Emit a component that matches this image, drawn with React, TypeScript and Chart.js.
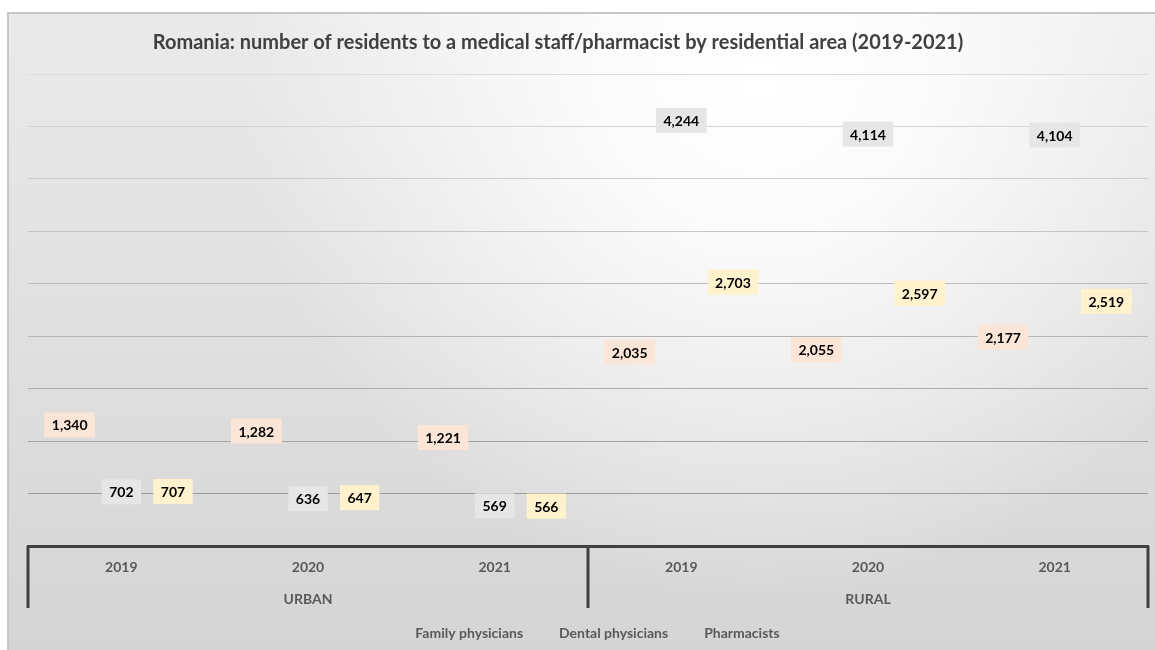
import { useEffect, useRef } from 'react';
import { Chart, registerables } from 'chart.js';

Chart.register(...registerables);

const TITLE = 'Romania: number of residents to a medical staff/pharmacist by residential area (2019-2021)';
const years = ['2019', '2020', '2021', '2019', '2020', '2021'];
const areas = ['URBAN', 'RURAL'];
const seriesNames = ['Family physicians', 'Dental physicians', 'Pharmacists'];
const familyPhysicians = [1340, 1282, 1221, 2035, 2055, 2177];
const dentalPhysicians = [702, 636, 569, 4244, 4114, 4104];
const pharmacists = [707, 647, 566, 2703, 2597, 2519];
const labelFills = ['#FBE5D6', '#E7E6E6', '#FFF2CC'];
const yMin = 0;
const yMax = 4500;
const yStep = 500;

const FONT = "Lato, 'Open Sans', sans-serif";

const backgroundPlugin = {
  id: 'bgPanel',
  beforeDraw(chart: any) {
    const { ctx, width, height } = chart;
    ctx.save();
    ctx.fillStyle = '#FFFFFF';
    ctx.fillRect(0, 0, width, height);
    const x0 = 8, y0 = 13;
    const lin = ctx.createLinearGradient(0, y0, 0, height);
    lin.addColorStop(0, '#EAEAEA');
    lin.addColorStop(1, '#D5D5D5');
    ctx.fillStyle = lin;
    ctx.fillRect(x0, y0, width - x0, height - y0);
    const rad = ctx.createRadialGradient(760, 80, 0, 760, 80, 520);
    rad.addColorStop(0, 'rgba(255,255,255,1)');
    rad.addColorStop(0.3, 'rgba(255,255,255,0.85)');
    rad.addColorStop(1, 'rgba(255,255,255,0)');
    ctx.fillStyle = rad;
    ctx.fillRect(x0, y0, width - x0, height - y0);
    ctx.strokeStyle = '#C6C6C6';
    ctx.lineWidth = 2;
    ctx.beginPath();
    ctx.moveTo(x0, height);
    ctx.lineTo(x0, y0);
    ctx.lineTo(width, y0);
    ctx.stroke();
    ctx.restore();
  },
};

const titlePlugin = {
  id: 'customTitle',
  afterDraw(chart: any) {
    const { ctx } = chart;
    ctx.save();
    let size = 16;
    ctx.font = `bold ${size}px ${FONT}`;
    const w = ctx.measureText(TITLE).width;
    size = size * (811 / w);
    ctx.font = `bold ${size}px ${FONT}`;
    ctx.fillStyle = '#404040';
    ctx.textAlign = 'center';
    ctx.textBaseline = 'middle';
    ctx.fillText(TITLE, 558, 43);
    ctx.restore();
  },
};

const dataLabelPlugin = {
  id: 'boxLabels',
  afterDatasetsDraw(chart: any) {
    const { ctx } = chart;
    ctx.save();
    ctx.font = `bold 14px ${FONT}`;
    ctx.textAlign = 'center';
    ctx.textBaseline = 'middle';
    chart.data.datasets.forEach((ds: any, i: number) => {
      const meta = chart.getDatasetMeta(i);
      meta.data.forEach((el: any, j: number) => {
        const text = Number(ds.data[j]).toLocaleString('en-US');
        const tw = ctx.measureText(text).width;
        const bw = tw + 15;
        const bh = 25;
        const cx = el.x;
        const cy = el.y + 19.5;
        ctx.fillStyle = labelFills[i];
        ctx.fillRect(cx - bw / 2, cy - bh / 2, bw, bh);
        ctx.fillStyle = '#000000';
        ctx.fillText(text, cx, cy + 1);
      });
    });
    ctx.restore();
  },
};

const groupAxisPlugin = {
  id: 'groupAxis',
  afterDraw(chart: any) {
    const { ctx, chartArea } = chart;
    const { left, right, bottom } = chartArea;
    const mid = (left + right) / 2;
    ctx.save();
    ctx.strokeStyle = '#404040';
    ctx.lineWidth = 3;
    [left, mid, right].forEach((x) => {
      ctx.beginPath();
      ctx.moveTo(x, bottom);
      ctx.lineTo(x, bottom + 62);
      ctx.stroke();
    });
    ctx.font = `bold 14px ${FONT}`;
    ctx.fillStyle = '#595959';
    ctx.textAlign = 'center';
    ctx.textBaseline = 'middle';
    const n = areas.length;
    areas.forEach((a, k) => {
      const cx = left + ((k + 0.5) * (right - left)) / n;
      ctx.fillText(a, cx, bottom + 53);
    });
    ctx.restore();
  },
};

function gridColor(v: number) {
  if (v <= yMin) return 'rgba(0,0,0,0)';
  const t = (v - yStep) / (yMax - yStep);
  const c = Math.round(0x9c + t * (0xdc - 0x9c));
  return `rgb(${c},${c},${c})`;
}

export default function App() {
  const ref = useRef<HTMLCanvasElement | null>(null);
  useEffect(() => {
    if (!ref.current) return;
    const series = [familyPhysicians, dentalPhysicians, pharmacists];
    const chart = new Chart(ref.current, {
      type: 'bar',
      data: {
        labels: years,
        datasets: series.map((d, i) => ({
          label: seriesNames[i],
          data: d,
          backgroundColor: 'rgba(0,0,0,0)',
          borderColor: 'rgba(0,0,0,0)',
          borderWidth: 0,
          categoryPercentage: 0.83,
          barPercentage: 1,
        })),
      },
      options: {
        animation: false,
        responsive: true,
        maintainAspectRatio: false,
        layout: { padding: { top: 74, left: 28, right: 7, bottom: 0 } },
        plugins: {
          title: { display: false },
          tooltip: { enabled: false },
          legend: {
            display: true,
            position: 'bottom',
            labels: {
              boxWidth: 12,
              boxHeight: 12,
              padding: 17,
              color: '#595959',
              font: { family: FONT, size: 14, weight: 'bold' },
            },
          },
        },
        scales: {
          x: {
            grid: { display: false, drawTicks: false },
            border: { display: true, color: '#404040', width: 3 },
            ticks: {
              color: '#595959',
              font: { family: FONT, size: 14, weight: 'bold' },
              padding: 13,
              maxRotation: 0,
              autoSkip: false,
            },
            afterFit: (s: any) => {
              s.height = 63;
            },
          },
          y: {
            min: yMin,
            max: yMax,
            ticks: { display: false, stepSize: yStep },
            border: { display: false },
            grid: {
              drawTicks: false,
              lineWidth: 1,
              color: (c: any) => gridColor(c.tick ? c.tick.value : 0),
            },
            afterFit: (s: any) => {
              s.width = 0;
            },
          },
        },
      },
      plugins: [backgroundPlugin, dataLabelPlugin, groupAxisPlugin, titlePlugin],
    });
    return () => chart.destroy();
  }, []);
  return (
    <div style={{ position: 'fixed', left: 0, top: 0, width: 1155, height: 650 }}>
      <canvas ref={ref} />
    </div>
  );
}
